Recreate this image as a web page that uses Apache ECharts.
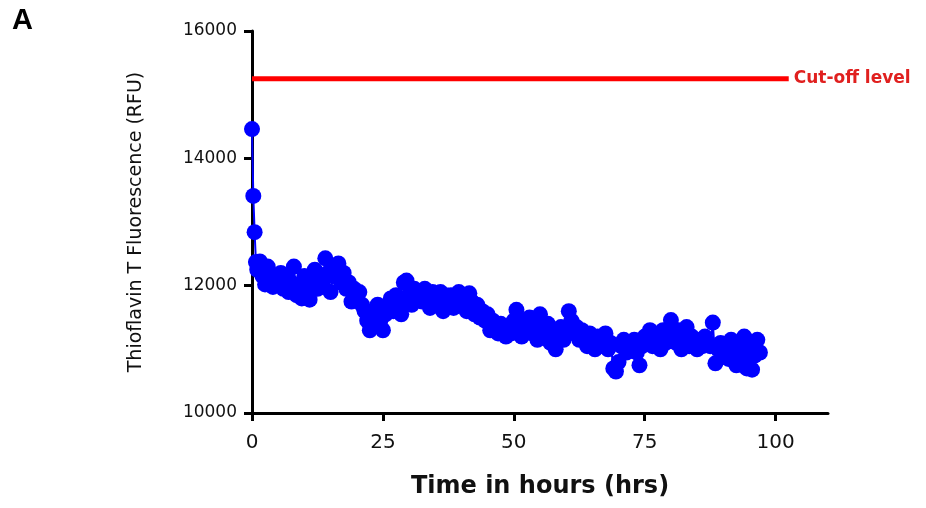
<!DOCTYPE html>
<html>
<head>
<meta charset="utf-8">
<script src="https://cdn.jsdelivr.net/npm/echarts@6/dist/echarts.min.js"></script>
<style>html,body{margin:0;padding:0;background:#fff}#c{width:926px;height:508px}</style>
</head>
<body>
<div id="c"></div>
<script>
// Time points (hours)
const hours = [
 0,0.25,0.5,0.75,1,1.5,2,2.5,3,3.5,4,4.5,5,5.5,6,6.5,7,7.5,8,8.5,9,9.5,10,10.5,11,11.5,12,12.5,13,13.5,
 14,14.5,15,15.5,16,16.5,17,17.5,18,18.5,19,19.5,20,20.5,21,21.5,22,22.5,23,23.5,24,24.5,25,25.5,26,26.5,27,27.5,28,28.5,
 29,29.5,30,30.5,31,31.5,32,32.5,33,33.5,34,34.5,35,35.5,36,36.5,37,37.5,38,38.5,39,39.5,40,40.5,41,41.5,42,42.5,43,43.5,
 44,44.5,45,45.5,46,46.5,47,47.5,48,48.5,49,49.5,50,50.5,51,51.5,52,52.5,53,53.5,54,54.5,55,55.5,56,56.5,57,57.5,58,58.5,
 59,59.5,60,60.5,61,61.5,62,62.5,63,63.5,64,64.5,65,65.5,66,66.5,67,67.5,68,68.5,69,69.5,70,70.5,71,71.5,72,72.5,73,73.5,
 74,74.5,75,75.5,76,76.5,77,77.5,78,78.5,79,79.5,80,80.5,81,81.5,82,82.5,83,83.5,84,84.5,85,85.5,86,86.5,87,87.5,88,88.5,
 89,89.5,90,90.5,91,91.5,92,92.5,93,93.5,94,94.5,95,95.5,96,96.5,97
];
// Thioflavin T fluorescence (RFU)
const rfu = [
 14460,13410,12840,12370,12250,12380,12150,12020,12300,12100,11980,12150,12050,12200,11950,12100,11900,12050,12300,11850,12000,11800,12150,11900,11780,12050,12250,11950,12100,12000,
 12430,12200,11900,12150,12300,12350,12050,12200,11950,12050,11750,11950,11800,11900,11700,11600,11450,11300,11600,11500,11700,11450,11300,11550,11650,11800,11600,11850,11700,11550,
 12050,12080,11850,11700,11950,11800,11900,11750,11950,11850,11650,11900,11800,11700,11900,11600,11850,11750,11850,11650,11800,11900,11700,11850,11600,11880,11750,11550,11700,11500,
 11600,11450,11550,11300,11450,11350,11250,11400,11300,11200,11350,11250,11450,11620,11350,11200,11450,11300,11500,11250,11400,11150,11550,11350,11250,11400,11100,11300,11000,11250,
 11350,11150,11300,11600,11450,11250,11350,11150,11300,11200,11050,11250,11150,11000,11200,11050,11150,11250,11000,11100,10700,10650,10800,11050,11150,10950,11100,11000,11150,10950,
 10750,11050,11200,11100,11300,11050,11250,11150,11000,11300,11100,11200,11460,11250,11100,11300,11000,11200,11350,11050,11200,11100,11000,11150,11050,11200,11100,11050,11420,10780,
 11000,11100,10950,11050,10850,11150,10950,10750,11050,10850,11200,10700,11000,10680,10900,11150,10950
];
const cutoffHours = [0, 102.5];
const cutoffLevel = 15250;
const yTicks = [10000, 12000, 14000, 16000];
const xTicks = [0, 25, 50, 75, 100];

const chart = echarts.init(document.getElementById('c'), null, {renderer: 'canvas'});
const font = '"Liberation Sans", Arial, sans-serif';
const wide = '"DejaVu Sans", sans-serif';
chart.setOption({
  animation: false,
  backgroundColor: '#fff',
  grid: {left: 252, right: 98, top: 31, bottom: 95, containLabel: false},
  graphic: [{type: 'text', left: 12, top: 6, style: {text: 'A', font: 'bold 29px ' + font, fill: '#000'}}],
  xAxis: {
    type: 'value', min: 0, max: 110, interval: 25,
    name: 'Time in hours (hrs)', nameLocation: 'middle', nameGap: 62,
    nameTextStyle: {fontFamily: wide, fontSize: 24, fontWeight: 'bold', color: '#111'},
    axisLine: {show: true, onZero: false, lineStyle: {color: '#000', width: 3}},
    axisTick: {show: true, length: 8, lineStyle: {color: '#000', width: 3},
      customValues: xTicks},
    axisLabel: {fontFamily: wide, fontSize: 20, color: '#111', margin: 20,
      customValues: xTicks, formatter: v => xTicks.includes(v) ? String(v) : ''},
    splitLine: {show: false}
  },
  yAxis: {
    type: 'value', min: 10000, max: 16000, interval: 2000,
    name: 'Thioflavin T Fluorescence (RFU)', nameLocation: 'middle', nameGap: 106, nameRotate: 90,
    nameTextStyle: {fontFamily: wide, fontSize: 19, color: '#111'},
    axisLine: {show: true, lineStyle: {color: '#000', width: 3}},
    axisTick: {show: true, length: 8, lineStyle: {color: '#000', width: 3}},
    axisLabel: {fontFamily: wide, fontSize: 17, color: '#111', margin: 15,
      formatter: v => yTicks.includes(v) ? String(v) : ''},
    splitLine: {show: false}
  },
  series: [
    {
      type: 'line', data: hours.map((h, i) => [h, rfu[i]]),
      symbol: 'circle', symbolSize: 16, showAllSymbol: true,
      itemStyle: {color: '#0000ff'}, lineStyle: {color: '#0000ff', width: 2}, z: 3
    },
    {
      type: 'line', data: cutoffHours.map(h => [h, cutoffLevel]),
      symbol: 'none', lineStyle: {color: '#ff0000', width: 5}, z: 4,
      endLabel: {show: true, formatter: 'Cut-off level', color: '#e0201f',
        fontFamily: wide, fontSize: 17, fontWeight: 'bold', distance: 5}
    }
  ]
});
</script>
</body>
</html>
